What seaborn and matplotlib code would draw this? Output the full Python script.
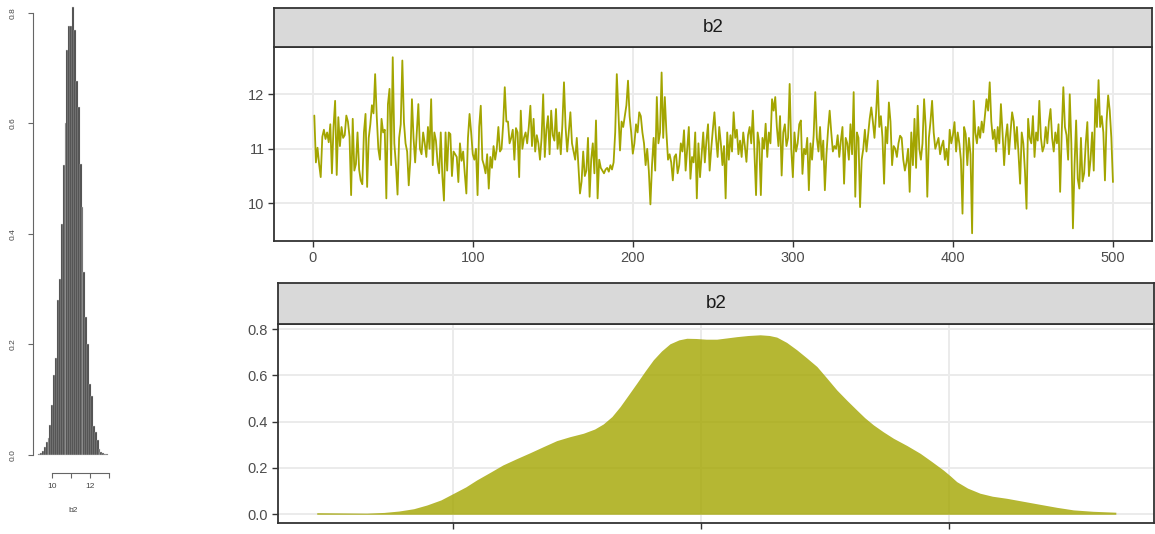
import numpy as np
import matplotlib
matplotlib.use("Agg")
import matplotlib.pyplot as plt
import seaborn as sns

sns.set_style("white")
plt.rcParams['font.family'] = ['Liberation Sans', 'DejaVu Sans']

# left: base-style histogram of b2 (density per bin)
hist_edges = [9.25, 9.35, 9.45, 9.55, 9.65, 9.75, 9.85, 9.95, 10.05, 10.15, 10.25,
              10.35, 10.45, 10.55, 10.65, 10.75, 10.85, 10.95, 11.05, 11.15, 11.25,
              11.35, 11.45, 11.55, 11.65, 11.75, 11.85, 11.95, 12.05, 12.15, 12.25,
              12.35, 12.45, 12.55, 12.65, 12.75, 12.85, 12.95]
hist_density = [0.002, 0.004, 0.008, 0.014, 0.024, 0.030, 0.055, 0.090, 0.145, 0.175,
                0.280, 0.318, 0.418, 0.525, 0.600, 0.733, 0.777, 0.777, 0.810, 0.770,
                0.676, 0.630, 0.527, 0.448, 0.332, 0.250, 0.200, 0.128, 0.106, 0.053,
                0.042, 0.027, 0.011, 0.005, 0.003, 0.002, 0.001]

# top right: trace of b2 over iterations
b2_draws = [
    11.61, 10.75, 11.02, 10.72, 10.48, 11.22, 11.35, 11.18, 11.30, 11.12,
    11.45, 10.55, 11.40, 11.88, 10.52, 11.58, 11.05, 11.40, 11.20, 11.25,
    11.61, 11.50, 11.22, 10.15, 11.55, 10.60, 10.72, 11.30, 10.62, 10.42,
    10.35, 11.30, 11.64, 10.30, 11.20, 11.45, 11.80, 11.65, 12.37, 11.60,
    11.00, 10.80, 11.55, 11.30, 11.35, 10.09, 11.82, 12.10, 10.70, 12.68,
    11.10, 10.70, 10.16, 11.20, 11.45, 12.62, 11.49, 11.10, 10.95, 10.33,
    10.80, 11.91, 11.20, 10.75, 11.30, 11.82, 11.00, 10.90, 11.30, 11.10,
    10.85, 11.40, 11.00, 11.91, 10.70, 11.30, 11.15, 10.75, 10.55, 11.30,
    10.50, 10.05, 11.30, 10.60, 11.30, 11.27, 10.50, 10.95, 10.90, 10.85,
    10.39, 11.10, 10.78, 10.95, 10.55, 10.18, 11.20, 11.64, 11.30, 10.90,
    10.80, 11.00, 10.15, 11.40, 11.79, 10.80, 10.70, 10.55, 10.90, 10.27,
    10.85, 10.65, 11.05, 10.80, 11.00, 11.40, 10.95, 11.00, 11.45, 12.13,
    11.50, 11.50, 11.10, 11.20, 11.35, 10.80, 11.38, 11.30, 10.48, 11.70,
    11.00, 11.20, 11.30, 11.10, 11.40, 11.79, 11.05, 11.55, 10.95, 11.25,
    11.10, 10.80, 11.20, 12.00, 10.85, 11.35, 11.60, 10.90, 11.70, 11.25,
    11.15, 11.73, 11.00, 11.30, 10.90, 11.45, 12.22, 11.40, 10.95, 11.30,
    11.67, 11.10, 10.95, 10.80, 11.20, 10.70, 10.18, 10.40, 10.95, 10.50,
    10.60, 11.20, 10.12, 10.80, 11.10, 10.55, 11.52, 10.09, 10.80, 10.65,
    10.60, 10.55, 10.62, 10.65, 10.58, 10.70, 10.62, 10.75, 11.30, 12.37,
    11.65, 10.97, 11.50, 11.40, 11.60, 11.80, 12.25, 11.60, 11.30, 10.91,
    11.10, 11.45, 11.30, 11.67, 11.60, 11.30, 11.10, 10.70, 11.00, 10.60,
    9.98, 10.70, 11.20, 10.60, 11.95, 11.10, 11.30, 12.40, 11.20, 11.95,
    11.30, 10.80, 10.90, 10.75, 10.42, 10.85, 10.90, 10.55, 10.70, 11.10,
    10.95, 11.34, 10.60, 11.00, 11.40, 10.45, 10.85, 10.75, 11.30, 10.09,
    11.10, 10.48, 10.90, 11.30, 10.75, 11.15, 11.45, 10.60, 11.00, 11.35,
    11.67, 11.20, 10.85, 11.40, 11.10, 10.70, 11.05, 10.09, 11.30, 10.80,
    11.25, 10.95, 11.67, 11.20, 11.35, 10.90, 11.15, 10.85, 11.30, 11.05,
    10.76, 11.25, 11.40, 11.10, 11.70, 10.90, 10.15, 11.30, 11.10, 10.15,
    11.20, 11.00, 11.46, 10.85, 11.30, 11.10, 11.91, 11.70, 11.95, 11.40,
    11.05, 11.60, 10.51, 11.30, 11.45, 11.05, 11.20, 12.19, 11.00, 10.48,
    11.30, 10.95, 11.10, 11.45, 11.52, 10.54, 11.00, 10.90, 11.20, 10.24,
    11.10, 10.80, 11.25, 12.04, 11.20, 10.95, 11.40, 10.80, 11.15, 10.24,
    10.90, 11.35, 11.70, 11.30, 10.95, 11.05, 11.00, 11.25, 10.85, 11.15,
    11.40, 10.36, 11.20, 11.10, 10.80, 11.45, 10.90, 12.04, 10.12, 11.30,
    11.20, 9.93, 10.80, 11.00, 11.35, 10.95, 11.25, 11.55, 11.76, 11.50,
    11.20, 11.65, 12.25, 11.40, 11.60, 11.20, 10.36, 11.40, 11.10, 11.85,
    11.50, 10.70, 11.05, 11.00, 10.85, 11.10, 11.24, 11.20, 10.80, 10.60,
    10.75, 11.00, 10.21, 11.30, 10.70, 11.55, 10.65, 11.79, 11.00, 10.80,
    11.10, 11.91, 11.40, 10.12, 11.20, 11.50, 11.88, 11.30, 11.00, 11.10,
    11.20, 10.90, 11.05, 11.15, 10.80, 11.00, 10.70, 11.35, 11.10, 11.25,
    11.49, 10.95, 11.30, 11.10, 10.80, 9.81, 11.40, 11.27, 10.70, 11.20,
    10.90, 9.45, 11.88, 11.30, 11.10, 11.40, 11.20, 11.50, 11.30, 11.60,
    11.91, 11.70, 12.22, 11.50, 11.18, 11.35, 10.95, 11.40, 11.10, 11.82,
    11.30, 10.70, 11.20, 11.45, 10.90, 11.30, 11.67, 11.50, 11.00, 11.40,
    10.90, 10.36, 11.30, 11.10, 10.60, 9.90, 11.55, 11.20, 11.10, 11.60,
    10.85, 11.30, 11.15, 11.88, 11.20, 10.95, 11.05, 11.40, 11.10, 11.50,
    11.73, 11.20, 10.95, 11.30, 11.10, 11.45, 10.21, 11.30, 12.13, 11.40,
    11.25, 10.80, 12.00, 11.10, 9.54, 10.70, 11.52, 10.45, 10.27, 11.20,
    10.40, 10.55, 11.10, 11.49, 10.50, 10.80, 11.30, 10.60, 11.91, 11.40,
    12.26, 11.40, 11.60, 11.30, 10.42, 11.50, 11.98, 11.70, 11.20, 10.39,
]

# bottom right: density of b2
dens_x = [9.449, 9.55, 9.65, 9.72, 9.78, 9.84, 9.893, 9.95, 10.0, 10.05,
          10.094, 10.15, 10.2, 10.255, 10.31, 10.365, 10.417, 10.47, 10.525, 10.57,
          10.605, 10.64, 10.673, 10.705, 10.74, 10.775, 10.807, 10.84, 10.874, 10.91,
          10.942, 10.98, 11.02, 11.063, 11.10, 11.144, 11.19, 11.238, 11.275, 11.305,
          11.345, 11.386, 11.425, 11.467, 11.507, 11.547, 11.588, 11.628, 11.66, 11.695,
          11.735, 11.776, 11.83, 11.884, 11.93, 11.977, 12.005, 12.031, 12.075, 12.125,
          12.175, 12.233, 12.30, 12.367, 12.435, 12.502, 12.58, 12.673]
dens_y = [0.007, 0.006, 0.005, 0.008, 0.014, 0.024, 0.040, 0.062, 0.090, 0.118,
          0.148, 0.182, 0.213, 0.240, 0.266, 0.293, 0.318, 0.335, 0.350, 0.368,
          0.390, 0.422, 0.465, 0.513, 0.566, 0.620, 0.667, 0.705, 0.736, 0.753,
          0.760, 0.759, 0.756, 0.756, 0.761, 0.767, 0.772, 0.775, 0.772, 0.765,
          0.742, 0.710, 0.676, 0.638, 0.588, 0.537, 0.492, 0.450, 0.417, 0.386,
          0.356, 0.328, 0.297, 0.263, 0.228, 0.191, 0.166, 0.141, 0.113, 0.091,
          0.078, 0.069, 0.056, 0.043, 0.030, 0.019, 0.013, 0.009]

olive = '#A3A500'
W, H = 1155, 534


def px_axes(fig, left, top, right, bottom):
    return fig.add_axes([left / W, 1 - bottom / H, (right - left) / W, (bottom - top) / H])


def gg_panel(ax):
    ax.set_facecolor('white')
    ax.grid(True, color='#EBEBEB', lw=1.4)
    ax.set_axisbelow(True)
    for s in ax.spines.values():
        s.set_visible(True)
        s.set_color('#333333')
        s.set_linewidth(1.3)
    ax.tick_params(colors='#333333', length=4.5, width=1.0, labelsize=10.5,
                   labelcolor='#4D4D4D', pad=2.5, left=True, bottom=True)
    ax.set_xlabel('')
    ax.set_ylabel('')


def strip(fig, left, top, right, bottom, label):
    s = px_axes(fig, left, top, right, bottom)
    s.set_facecolor('#D9D9D9')
    s.set_xticks([])
    s.set_yticks([])
    for sp in s.spines.values():
        sp.set_color('#333333')
        sp.set_linewidth(1.3)
    s.text(0.5, 0.5, label, ha='center', va='center', fontsize=13.5, color='#1A1A1A',
           transform=s.transAxes)


fig = plt.figure(figsize=(W / 100, H / 100), dpi=100)

# histogram
ax0 = px_axes(fig, 33, 0, 114, 473)
mids = [(a + b) / 2 for a, b in zip(hist_edges[:-1], hist_edges[1:])]
sns.histplot(x=mids, weights=hist_density, bins=hist_edges, ax=ax0,
             color='#333333', edgecolor='#d8d8d8', linewidth=0.3, alpha=1)
ax0.set_xlim(8.979, 13.265)
ax0.set_ylim(-0.0326, 0.8235)
ax0.grid(False)
ax0.spines['top'].set_visible(False)
ax0.spines['right'].set_visible(False)
for k in ['left', 'bottom']:
    ax0.spines[k].set_color('#666666')
    ax0.spines[k].set_linewidth(0.8)
ax0.spines['left'].set_bounds(0, 0.8)
ax0.spines['bottom'].set_bounds(10, 13)
ax0.set_xticks([10, 11, 12, 13])
ax0.set_xticklabels(['10', '', '12', ''])
ax0.set_yticks([0, 0.2, 0.4, 0.6, 0.8])
ax0.set_yticklabels(['0.0', '0.2', '0.4', '0.6', '0.8'], rotation=90, va='center')
ax0.tick_params(axis='both', colors='#666666', length=3.5, width=0.8, labelsize=6,
                labelcolor='#444444', left=True, bottom=True)
ax0.tick_params(axis='y', pad=8)
ax0.tick_params(axis='x', pad=4)
ax0.set_ylabel('')
ax0.set_xlabel('b2', fontsize=6, color='#444444', labelpad=12)

# trace
ax1 = px_axes(fig, 274.3, 47, 1152, 241)
iters = np.arange(1, len(b2_draws) + 1)
sns.lineplot(x=iters, y=b2_draws, ax=ax1, color=olive, lw=1.3, estimator=None)
ax1.set_xlim(-24, 524.4)
ax1.set_ylim(9.308, 12.868)
ax1.set_xticks([0, 100, 200, 300, 400, 500])
ax1.set_yticks([10, 11, 12])
gg_panel(ax1)
strip(fig, 274.3, 8, 1152, 47, 'b2')

# density
ax2 = px_axes(fig, 277.7, 324.3, 1154, 523)
ax2.fill_between(dens_x, 0, dens_y, color=olive, alpha=0.8, lw=0)
ax2.set_xlim(9.2915, 12.827)
ax2.set_ylim(-0.0376, 0.8203)
ax2.set_xticks([10, 11, 12])
ax2.set_yticks([0.0, 0.2, 0.4, 0.6, 0.8])
ax2.set_yticklabels(['0.0', '0.2', '0.4', '0.6', '0.8'])
gg_panel(ax2)
ax2.tick_params(axis='x', labelbottom=False)
strip(fig, 277.7, 283, 1154, 324.3, 'b2')

fig.savefig('out.png', dpi=100)
